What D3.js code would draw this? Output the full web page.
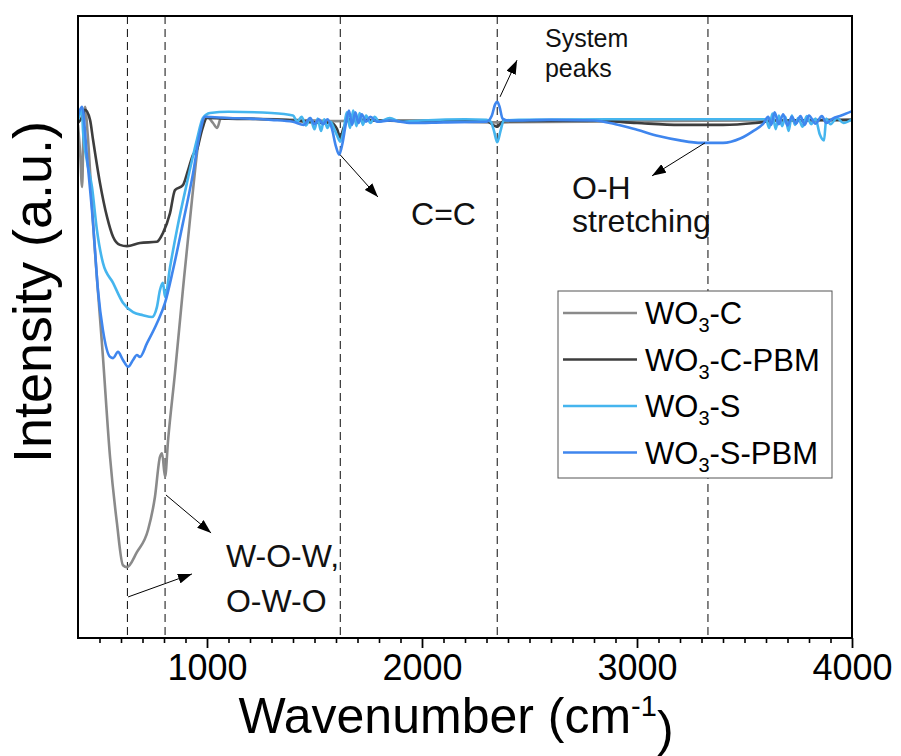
<!DOCTYPE html>
<html>
<head>
<meta charset="utf-8">
<script src="https://cdn.jsdelivr.net/npm/d3@7"></script>
<style>
  body { margin: 0; background: #fff; }
  svg { font-family: "Liberation Sans", Arial, sans-serif; }
</style>
</head>
<body>
<div id="chart"></div>
<script>
// FTIR spectra, intensity in arbitrary units (0 = bottom of frame, 100 = top)
const seriesNames = ["WO3-C", "WO3-C-PBM", "WO3-S", "WO3-S-PBM"];
const seriesColors = ["#8a8a8a", "#3d3d3d", "#45b5ee", "#3f86ee"];

const wo3C = [
  [400,82.5],[410,78.0],[419,72.5],[426,82.0],[433,85.4],[445,81.0],[470,66.7],[516,45.2],
  [549,29.1],[581,18.5],[609,11.7],[628,11.4],[674,13.8],[726,17.4],[758,22.7],[781,29.1],
  [791,29.7],[805,25.9],[819,31.8],[851,42.6],[888,56.0],[930,70.4],[967,81.2],[1000,83.8],
  [1028,82.8],[1047,82.0],[1065,83.6],[1200,83.5],[1400,83.3],[1600,83.1],[1700,83.2],
  [2000,83.2],[2340,82.9],[2360,82.9],[3000,83.1],[3600,83.2],[4000,83.3]
];

const wo3CPBM = [
  [400,82.8],[415,83.5],[433,84.9],[456,83.3],[470,80.1],[502,73.2],[535,67.7],[563,64.5],
  [595,63.2],[628,63.0],[688,63.5],[767,63.7],[795,65.1],[828,68.3],[851,72.0],[888,72.8],
  [912,75.2],[935,77.7],[953,78.5],[977,81.7],[1000,83.6],[1100,83.5],[1300,83.4],[1400,83.2],
  [1500,82.9],[1580,82.8],[1605,81.8],[1620,80.5],[1635,82.0],[1660,83.4],[1800,83.2],
  [2000,83.1],[2300,83.1],[2340,82.3],[2350,82.2],[2360,82.5],[2380,83.1],[2800,83.2],
  [3000,82.8],[3200,82.5],[3400,82.5],[3550,82.8],[3650,83.2],[4000,83.3]
];

const wo3S = [
  [400,83.3],[412,84.5],[419,84.9],[423,81.7],[440,77.0],[465,72.5],[488,65.6],[516,60.3],
  [563,57.1],[609,53.9],[656,52.4],[702,51.9],[744,51.6],[767,53.2],[781,55.9],[795,57.1],
  [805,54.8],[828,59.6],[860,65.6],[907,73.2],[953,80.1],[981,83.6],[1014,84.4],[1100,84.6],
  [1300,84.4],[1400,84.0],[1420,83.0],[1440,83.8],[1460,82.4],[1480,83.6],[1500,81.8],
  [1515,83.5],[1530,81.5],[1545,83.4],[1560,82.0],[1575,83.0],[1590,82.0],[1605,80.8],
  [1620,79.8],[1635,81.5],[1650,84.5],[1665,82.0],[1680,84.8],[1695,82.3],[1710,84.4],
  [1725,82.5],[1740,84.0],[1760,82.8],[1780,83.8],[1800,83.0],[1850,83.6],[1900,83.0],
  [2000,83.2],[2200,83.4],[2300,83.3],[2320,83.0],[2335,81.5],[2350,79.7],[2365,81.5],
  [2380,83.2],[2450,83.3],[3000,83.4],[3600,83.4],[3615,82.0],[3630,84.3],[3645,81.8],
  [3660,84.0],[3675,82.3],[3690,83.8],[3705,81.5],[3720,84.0],[3735,82.5],[3750,83.6],
  [3770,82.2],[3790,83.9],[3810,82.6],[3830,83.5],[3850,81.0],[3870,80.0],[3880,83.5],
  [3900,82.6],[3930,83.6],[3960,82.8],[4000,83.4]
];

const wo3SPBM = [
  [400,84.0],[419,85.4],[442,77.3],[470,66.7],[493,55.9],[516,49.5],[549,45.2],[563,45.0],
  [586,46.0],[609,44.7],[633,43.6],[656,44.7],[674,45.5],[688,45.2],[721,47.4],[767,50.6],
  [805,53.9],[842,59.2],[888,66.7],[935,74.7],[967,81.2],[991,83.8],[1100,83.6],[1200,83.5],
  [1300,83.3],[1400,83.0],[1450,82.5],[1480,83.6],[1500,82.6],[1520,83.4],[1540,82.6],
  [1560,83.4],[1580,82.0],[1600,79.0],[1615,77.7],[1630,79.5],[1645,82.5],[1660,84.8],
  [1675,82.5],[1690,84.5],[1705,82.8],[1720,84.2],[1740,83.0],[1760,83.8],[1790,83.0],
  [1850,83.2],[1950,82.8],[2100,82.9],[2300,83.0],[2325,84.0],[2340,85.8],[2350,86.2],
  [2360,85.5],[2375,83.5],[2400,83.2],[2600,83.3],[2800,83.2],[2900,82.6],[3000,81.7],
  [3100,80.7],[3200,80.0],[3300,79.6],[3400,79.6],[3480,80.3],[3540,81.5],[3590,82.8],
  [3610,83.8],[3625,82.5],[3640,84.5],[3660,82.6],[3680,84.2],[3700,82.4],[3720,83.8],
  [3740,82.7],[3760,83.9],[3780,82.5],[3800,84.0],[3830,82.7],[3860,83.9],[3880,82.8],
  [3910,83.5],[3950,84.0],[4000,84.7]
];

const xMajorTicks = [1000, 2000, 3000, 4000];
const peakLines = [630, 805, 1620, 2350, 3330];

// annotation arrows: [fromWn, fromI, toWn, toI]
const arrows = [
  [809, 23.0, 1019, 16.9],
  [633, 6.6, 930, 10.3],
  [1619, 77.7, 1795, 70.9],
  [2363, 87.0, 2442, 92.9],
  [3316, 79.6, 3070, 74.3]
];
// annotation labels: text lines, wavenumber of left edge, intensity of first baseline
const notes = [
  { lines: ["System", "peaks"], wn: 2572, i: 95.0, size: 25, gap: 30 },
  { lines: ["C=C"], wn: 1949, i: 66.4, size: 32, gap: 0 },
  { lines: ["O-H", "stretching"], wn: 2698, i: 70.6, size: 32, gap: 33 },
  { lines: ["W-O-W,", "O-W-O"], wn: 1088, i: 11.4, size: 32, gap: 45 }
];

const width = 901, height = 756;
const mLeft = 78, mRight = 852, mTop = 16, mBottom = 638;

const svg = d3.select("#chart").append("svg")
  .attr("width", width)
  .attr("height", height);

svg.append("rect").attr("width", width).attr("height", height).attr("fill", "#fff");

const x = d3.scaleLinear().domain([400, 4000]).range([mLeft, mRight]);
const y = d3.scaleLinear().domain([0, 100]).range([mBottom, mTop]);

const defs = svg.append("defs");
defs.append("clipPath").attr("id", "plot")
  .append("rect")
  .attr("x", mLeft).attr("y", mTop)
  .attr("width", mRight - mLeft).attr("height", mBottom - mTop);

// dashed peak markers
svg.append("g")
  .selectAll("line")
  .data(peakLines)
  .enter().append("line")
  .attr("x1", d => x(d)).attr("x2", d => x(d))
  .attr("y1", mTop).attr("y2", mBottom)
  .attr("stroke", "#222")
  .attr("stroke-width", 1.1)
  .attr("stroke-dasharray", "8,5");

// spectra
const line = d3.line()
  .x(d => x(d[0]))
  .y(d => y(d[1]))
  .curve(d3.curveMonotoneX);

const allSeries = [wo3C, wo3CPBM, wo3S, wo3SPBM];
svg.append("g")
  .attr("clip-path", "url(#plot)")
  .selectAll("path")
  .data(allSeries)
  .enter().append("path")
  .attr("d", d => line(d))
  .attr("fill", "none")
  .attr("stroke", (d, i) => seriesColors[i])
  .attr("stroke-width", 2.6)
  .attr("stroke-linejoin", "round");

// axes
const minorTicks = d3.range(500, 4000, 100).filter(v => v % 1000 !== 0);
svg.append("g")
  .attr("transform", `translate(0,${mBottom})`)
  .call(d3.axisBottom(x).tickValues(minorTicks).tickSize(5).tickFormat(""))
  .call(g => g.select(".domain").remove())
  .call(g => g.selectAll("line").attr("stroke", "#000").attr("stroke-width", 1.6));

svg.append("g")
  .attr("transform", `translate(0,${mBottom})`)
  .call(d3.axisBottom(x).tickValues(xMajorTicks).tickSize(10).tickPadding(6).tickFormat(d3.format("d")))
  .call(g => g.select(".domain").remove())
  .call(g => g.selectAll("line").attr("stroke", "#000").attr("stroke-width", 1.8))
  .call(g => g.selectAll("text")
    .attr("fill", "#000")
    .style("font-size", "36px")
    .style("font-family", "'Liberation Sans', Arial, sans-serif"));

// frame
svg.append("rect")
  .attr("x", mLeft).attr("y", mTop)
  .attr("width", mRight - mLeft).attr("height", mBottom - mTop)
  .attr("fill", "none")
  .attr("stroke", "#000")
  .attr("stroke-width", 2);

// axis titles
const xt = svg.append("text")
  .attr("x", 456)
  .attr("y", 733)
  .attr("text-anchor", "middle")
  .style("font-size", "50px");
xt.append("tspan").text("Wavenumber (cm");
xt.append("tspan").attr("dy", "-0.6em").style("font-size", "29px").text("-1");
xt.append("tspan").attr("dy", "0.6em").text(")");

svg.append("text")
  .attr("transform", `translate(51,292) rotate(-90)`)
  .attr("text-anchor", "middle")
  .style("font-size", "54px")
  .text("Intensity (a.u.)");

// arrows
defs.append("marker")
  .attr("id", "head")
  .attr("viewBox", "0 0 14 10")
  .attr("refX", 14).attr("refY", 5)
  .attr("markerWidth", 14).attr("markerHeight", 10)
  .attr("markerUnits", "userSpaceOnUse")
  .attr("orient", "auto")
  .append("path")
  .attr("d", "M0,0 L14,5 L0,10 Z")
  .attr("fill", "#000");

svg.append("g")
  .selectAll("line")
  .data(arrows)
  .enter().append("line")
  .attr("x1", d => x(d[0])).attr("y1", d => y(d[1]))
  .attr("x2", d => x(d[2])).attr("y2", d => y(d[3]))
  .attr("stroke", "#000")
  .attr("stroke-width", 1)
  .attr("marker-end", "url(#head)");

// annotation labels
notes.forEach(n => {
  n.lines.forEach((t, k) => {
    svg.append("text")
      .attr("x", x(n.wn))
      .attr("y", y(n.i) + k * n.gap)
      .style("font-size", n.size + "px")
      .attr("fill", "#111")
      .text(t);
  });
});

// legend
const legend = svg.append("g");
legend.append("rect")
  .attr("x", 558).attr("y", 291)
  .attr("width", 274).attr("height", 187)
  .attr("fill", "#fff")
  .attr("stroke", "#555")
  .attr("stroke-width", 1);

seriesNames.forEach((name, i) => {
  const ly = 313 + i * 46.5;
  legend.append("line")
    .attr("x1", 563).attr("x2", 637)
    .attr("y1", ly).attr("y2", ly)
    .attr("stroke", seriesColors[i])
    .attr("stroke-width", 2.6);
  const parts = name.split("3");
  const t = legend.append("text")
    .attr("x", 645).attr("y", ly + 11)
    .style("font-size", "31px");
  t.append("tspan").text(parts[0]);
  t.append("tspan").attr("dy", 8).style("font-size", "20px").text("3");
  t.append("tspan").attr("dy", -8).text(parts[1]);
});
</script>
</body>
</html>
